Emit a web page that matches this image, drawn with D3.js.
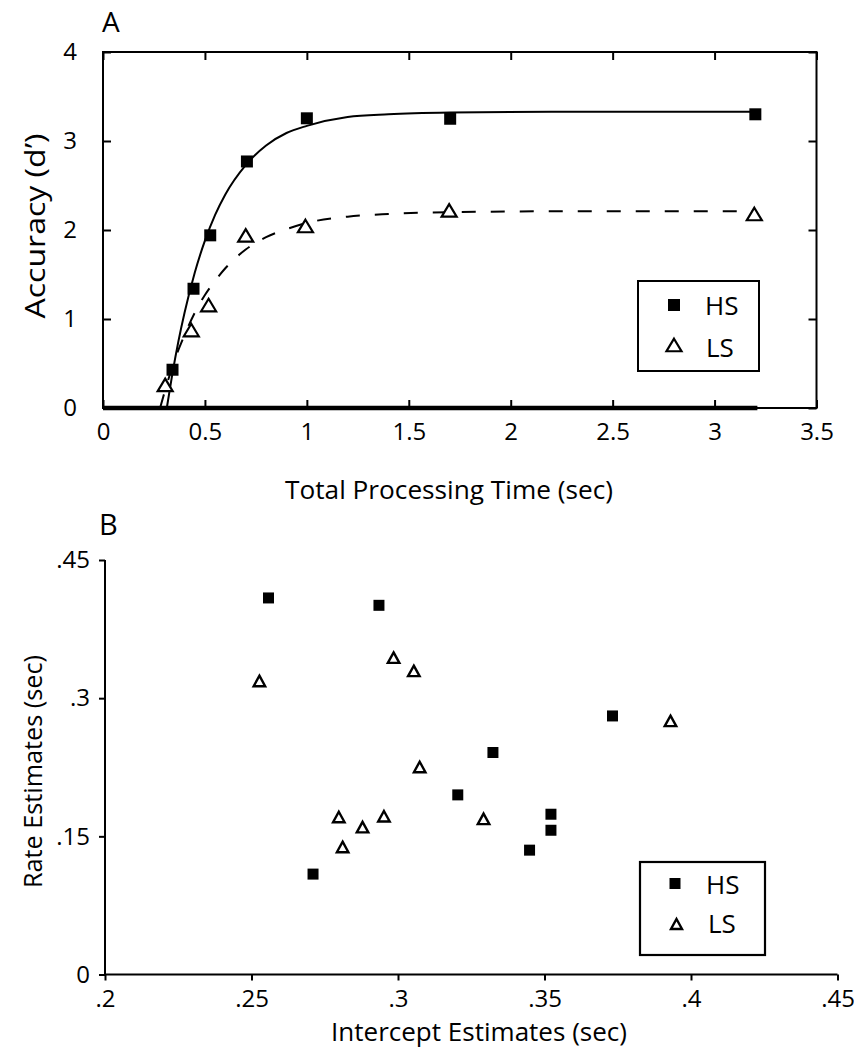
<!DOCTYPE html>
<html><head><meta charset="utf-8">
<script src="https://cdn.jsdelivr.net/npm/d3@7"></script>
<style>
body{margin:0;background:#fff}
svg{display:block}
text{font-family:"Open Sans",sans-serif;fill:#000}
</style>
</head><body>
<svg id="chart" width="854" height="1050"></svg>
<script>
// ---------- Panel A data ----------
const seriesNames = ["HS", "LS"];
const timeHS   = [0.341, 0.444, 0.526, 0.706, 1.000, 1.703, 3.200];
const dprimeHS = [0.43, 1.34, 1.94, 2.77, 3.255, 3.25, 3.30];
const timeLS   = [0.305, 0.433, 0.518, 0.700, 0.993, 1.698, 3.195];
const dprimeLS = [0.26, 0.876, 1.157, 1.94, 2.045, 2.22, 2.18];
// fitted curves
const fitTimeHS = [0.313, 0.34, 0.37, 0.40, 0.45, 0.50, 0.55, 0.60, 0.70, 0.80, 0.90, 1.0, 1.2, 1.4, 1.7, 2.2, 3.21];
const fitValHS  = [0, 0.38, 0.75, 1.07, 1.52, 1.88, 2.17, 2.40, 2.73, 2.95, 3.09, 3.17, 3.27, 3.30, 3.32, 3.33, 3.33];
const fitTimeLS = [0.28, 0.31, 0.35, 0.40, 0.45, 0.50, 0.55, 0.60, 0.70, 0.80, 0.90, 1.0, 1.2, 1.4, 1.7, 2.2, 3.20];
const fitValLS  = [0, 0.24, 0.53, 0.82, 1.07, 1.27, 1.43, 1.57, 1.78, 1.92, 2.01, 2.08, 2.15, 2.18, 2.20, 2.21, 2.21];
const baseTime = [0, 3.21];
const baseVal  = [0, 0];
const xTicksA = [0, 0.5, 1, 1.5, 2, 2.5, 3, 3.5];
const xTickLabelsA = ["0", "0.5", "1", "1.5", "2", "2.5", "3", "3.5"];
const yTicksA = [0, 1, 2, 3, 4];
const yTickLabelsA = ["0", "1", "2", "3", "4"];

// ---------- Panel B data ----------
const interceptHS = [0.2558, 0.2935, 0.3732, 0.3324, 0.3204, 0.3522, 0.3522, 0.3449, 0.2710];
const rateHS      = [0.4088, 0.4008, 0.2807, 0.2410, 0.1950, 0.1740, 0.1566, 0.1350, 0.1090];
const interceptLS = [0.2527, 0.2985, 0.3054, 0.3074, 0.3930, 0.2798, 0.2879, 0.2952, 0.2811, 0.3292];
const rateLS      = [0.3187, 0.3440, 0.3296, 0.2253, 0.2753, 0.1710, 0.1600, 0.1718, 0.1385, 0.1690];
const xTicksB = [0.2, 0.25, 0.3, 0.35, 0.4, 0.45];
const xTickLabelsB = [".2", ".25", ".3", ".35", ".4", ".45"];
const yTicksB = [0, 0.15, 0.3, 0.45];
const yTickLabelsB = ["0", ".15", ".3", ".45"];

const svg = d3.select("#chart");
const zip = (a, b) => a.map((v, i) => [v, b[i]]);
const tri = (w, h) => `M0,${-h/2}L${w/2},${h/2}L${-w/2},${h/2}Z`;
const sq = s => `M${-s/2},${-s/2}h${s}v${s}h${-s}Z`;

function styleAxis(g, fs) {
  g.select(".domain").remove();
  g.selectAll("line").attr("stroke", "#000").attr("stroke-width", 2);
  g.selectAll("text").attr("font-size", fs).attr("fill", "#000")
    .style("font-family", '"Open Sans",sans-serif');
}

// ================= PANEL A =================
const xA = d3.scaleLinear().domain([0, 3.5]).range([103, 816.5]);
const yA = d3.scaleLinear().domain([0, 4]).range([408, 52]);
const gA = svg.append("g");

gA.append("g").attr("transform", `translate(0,${yA(0)})`)
  .call(d3.axisBottom(xA).tickValues(xTicksA).tickFormat((d, i) => xTickLabelsA[i]).tickSize(-8).tickPadding(15))
  .call(g => styleAxis(g, 24));
gA.append("g").attr("transform", `translate(0,${yA(4)})`)
  .call(d3.axisTop(xA).tickValues(xTicksA).tickFormat("").tickSize(-8))
  .call(g => styleAxis(g, 24));
gA.append("g").attr("transform", `translate(${xA(0)},0)`)
  .call(d3.axisLeft(yA).tickValues(yTicksA).tickFormat((d, i) => yTickLabelsA[i]).tickSize(-8).tickPadding(26))
  .call(g => styleAxis(g, 24));
gA.append("g").attr("transform", `translate(${xA(3.5)},0)`)
  .call(d3.axisRight(yA).tickValues(yTicksA).tickFormat("").tickSize(-8))
  .call(g => styleAxis(g, 24));
gA.append("rect").attr("x", xA(0)).attr("y", yA(4))
  .attr("width", xA(3.5) - xA(0)).attr("height", yA(0) - yA(4))
  .attr("fill", "none").attr("stroke", "#000").attr("stroke-width", 2);

const lineA = d3.line().x(d => xA(d[0])).y(d => yA(d[1]));
const curveA = d3.line().x(d => xA(d[0])).y(d => yA(d[1])).curve(d3.curveMonotoneX);

gA.append("path").datum(zip(baseTime, baseVal)).attr("d", lineA)
  .attr("fill", "none").attr("stroke", "#000").attr("stroke-width", 4.5);
gA.append("path").datum(zip(fitTimeHS, fitValHS)).attr("d", curveA)
  .attr("fill", "none").attr("stroke", "#000").attr("stroke-width", 2);
gA.append("path").datum(zip(fitTimeLS, fitValLS)).attr("d", curveA)
  .attr("fill", "none").attr("stroke", "#000").attr("stroke-width", 2)
  .attr("stroke-dasharray", "14,15");

gA.selectAll(".sqA").data(zip(timeHS, dprimeHS)).join("path")
  .attr("d", sq(12)).attr("transform", d => `translate(${xA(d[0])},${yA(d[1])})`)
  .attr("fill", "#000");
gA.selectAll(".triA").data(zip(timeLS, dprimeLS)).join("path")
  .attr("d", tri(15, 12.5)).attr("transform", d => `translate(${xA(d[0])},${yA(d[1])})`)
  .attr("fill", "#fff").attr("stroke", "#000").attr("stroke-width", 2.2).attr("stroke-linejoin", "miter");

// legend A
gA.append("rect").attr("x", 638).attr("y", 281).attr("width", 121).attr("height", 90)
  .attr("fill", "#fff").attr("stroke", "#000").attr("stroke-width", 2);
gA.append("path").attr("d", sq(12)).attr("transform", "translate(674,305)").attr("fill", "#000");
gA.append("path").attr("d", tri(15, 12.5)).attr("transform", "translate(674,345)")
  .attr("fill", "#fff").attr("stroke", "#000").attr("stroke-width", 2.2);
gA.append("text").attr("x", 705).attr("y", 315).attr("font-size", 26).text(seriesNames[0]);
gA.append("text").attr("x", 706).attr("y", 357).attr("font-size", 26).text(seriesNames[1]);

gA.append("text").attr("x", 102).attr("y", 32).attr("font-size", 28).text("A");
gA.append("text").attr("x", 449).attr("y", 499).attr("font-size", 25).attr("text-anchor", "middle")
  .attr("textLength", 328).attr("lengthAdjust", "spacingAndGlyphs").text("Total Processing Time (sec)");
gA.append("text").attr("transform", "translate(45,226) rotate(-90)").attr("font-size", 27)
  .attr("text-anchor", "middle").attr("textLength", 185).attr("lengthAdjust", "spacingAndGlyphs")
  .text("Accuracy (d’)");

// ================= PANEL B =================
const xB = d3.scaleLinear().domain([0.2, 0.45]).range([105, 837.5]);
const yB = d3.scaleLinear().domain([0, 0.45]).range([974.5, 560]);
const gB = svg.append("g");

gB.append("g").attr("transform", `translate(0,${yB(0)})`)
  .call(d3.axisBottom(xB).tickValues(xTicksB).tickFormat((d, i) => xTickLabelsB[i]).tickSize(6).tickPadding(9))
  .call(g => styleAxis(g, 24));
gB.append("g").attr("transform", `translate(${xB(0.2)},0)`)
  .call(d3.axisLeft(yB).tickValues(yTicksB).tickFormat((d, i) => yTickLabelsB[i]).tickSize(6).tickPadding(9))
  .call(g => styleAxis(g, 24));
gB.append("line").attr("x1", xB(0.2)).attr("x2", xB(0.45)).attr("y1", yB(0)).attr("y2", yB(0))
  .attr("stroke", "#000").attr("stroke-width", 2);
gB.append("line").attr("x1", xB(0.2)).attr("x2", xB(0.2)).attr("y1", yB(0) + 1).attr("y2", yB(0.45))
  .attr("stroke", "#000").attr("stroke-width", 2);

gB.selectAll(".sqB").data(zip(interceptHS, rateHS)).join("path")
  .attr("d", sq(11)).attr("transform", d => `translate(${xB(d[0])},${yB(d[1])})`)
  .attr("fill", "#000");
gB.selectAll(".triB").data(zip(interceptLS, rateLS)).join("path")
  .attr("d", tri(11.5, 10.5)).attr("transform", d => `translate(${xB(d[0])},${yB(d[1])})`)
  .attr("fill", "#fff").attr("stroke", "#000").attr("stroke-width", 2.4);

// legend B
gB.append("rect").attr("x", 640).attr("y", 862).attr("width", 125).attr("height", 93)
  .attr("fill", "#fff").attr("stroke", "#000").attr("stroke-width", 2.2);
gB.append("path").attr("d", sq(11)).attr("transform", "translate(675,883.5)").attr("fill", "#000");
gB.append("path").attr("d", tri(11, 10)).attr("transform", "translate(676.5,924)")
  .attr("fill", "#fff").attr("stroke", "#000").attr("stroke-width", 2.4);
gB.append("text").attr("x", 706).attr("y", 893.5).attr("font-size", 26).text(seriesNames[0]);
gB.append("text").attr("x", 708).attr("y", 933).attr("font-size", 26).text(seriesNames[1]);

gB.append("text").attr("x", 99).attr("y", 535).attr("font-size", 29).text("B");
gB.append("text").attr("x", 479).attr("y", 1041).attr("font-size", 25).attr("text-anchor", "middle")
  .attr("textLength", 296).attr("lengthAdjust", "spacingAndGlyphs").text("Intercept Estimates (sec)");
gB.append("text").attr("transform", "translate(42,771.5) rotate(-90)").attr("font-size", 25)
  .attr("text-anchor", "middle").attr("textLength", 233).attr("lengthAdjust", "spacingAndGlyphs")
  .text("Rate Estimates (sec)");
</script>
</body></html>
